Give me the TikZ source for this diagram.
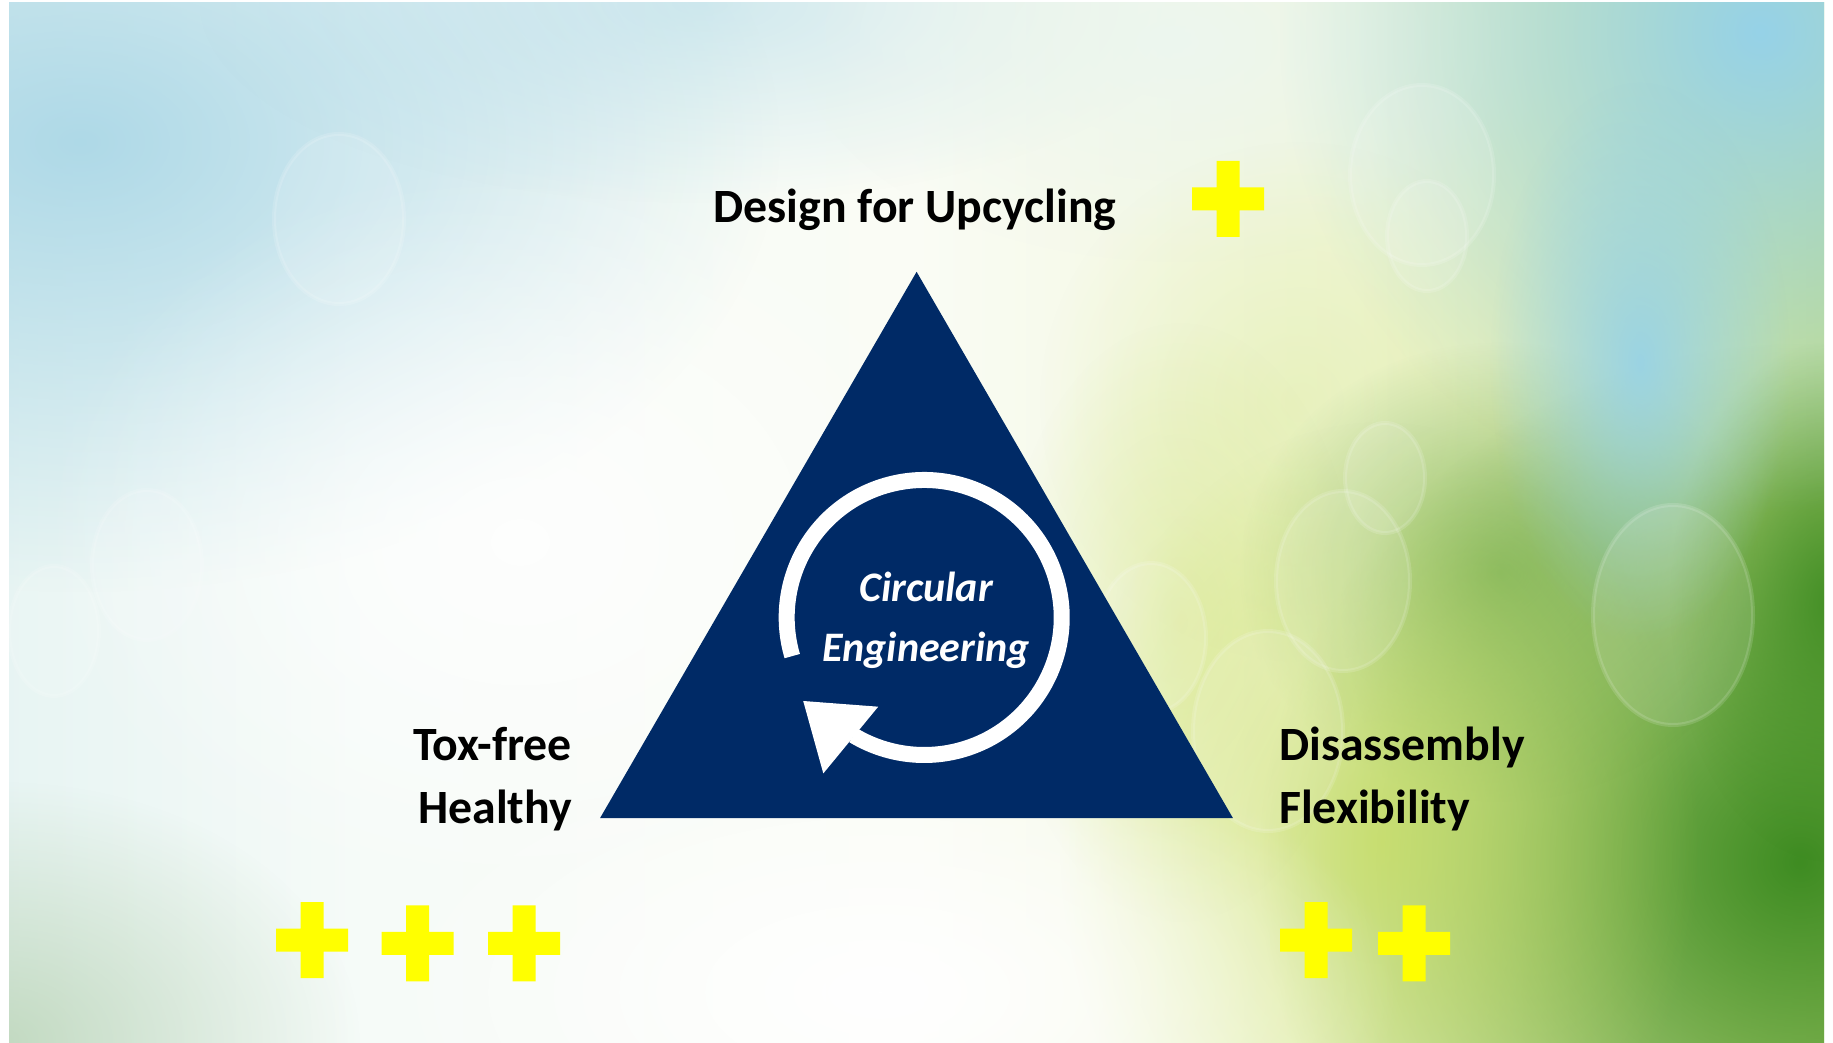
\documentclass[tikz,border=0pt]{standalone}
\usepackage{fontspec}
\setmainfont{Carlito}
\usepackage{xcolor}
\usepackage{tikz}
\usetikzlibrary{fadings}

\definecolor{navy}{RGB}{0,42,102}
\definecolor{plusyellow}{RGB}{255,255,0}
\definecolor{bgA}{RGB}{190,225,232}
\definecolor{bgB}{RGB}{224,241,240}
\definecolor{bgC}{RGB}{246,251,248}
\definecolor{bgD}{RGB}{250,252,245}
\definecolor{bgE}{RGB}{240,246,216}
\definecolor{bgF}{RGB}{214,230,148}
\definecolor{bgG}{RGB}{168,204,98}
\definecolor{bgH}{RGB}{104,166,66}
\definecolor{bgI}{RGB}{66,138,40}
\definecolor{skyblue}{RGB}{168,214,230}
\definecolor{deepsky}{RGB}{150,210,232}
\definecolor{leafgreen}{RGB}{62,140,34}
\definecolor{mossgreen}{RGB}{104,166,72}
\definecolor{limegreen}{RGB}{200,222,88}
\definecolor{paleslime}{RGB}{226,238,170}
\definecolor{mintwhite}{RGB}{236,246,240}
\definecolor{mossgrey}{RGB}{170,200,160}

\pgfdeclarehorizontalshading{bgsky}{100bp}{color(0bp)=(bgA); color(20bp)=(bgB);
  color(35bp)=(bgC); color(50bp)=(bgD); color(62bp)=(bgE); color(72bp)=(bgF);
  color(82bp)=(bgG); color(92bp)=(bgH); color(100bp)=(bgI)}
\tikzfading[name=glow, inner color=transparent!0, outer color=transparent!100]

\tikzset{
  navyfill/.style={fill=navy},
  ringline/.style={draw=white, line width=16pt},
  crossmark/.style={fill=plusyellow},
  labeltext/.style={inner sep=0pt, text=black, font=\fontsize{47.8}{56}\selectfont\bfseries},
  coretext/.style={inner sep=0pt, text=white, font=\fontsize{42}{50}\selectfont\bfseries\itshape},
  bokeh/.style={fill=white, fill opacity=0.13, draw=white, draw opacity=0.14, line width=4pt},
}

\begin{document}
\begin{tikzpicture}[x=1pt,y=1pt]
    \useasboundingbox (0,0) rectangle (1833,1042);

    % Background photo
    \begin{scope}
        \clip (9,0) rectangle (1824,1039);
        \shade[shading=bgsky] (9,0) rectangle (1824,1039);
        \foreach \cx/\cy/\rx/\ry/\col/\op in {
            80/900/700/450/skyblue/0.9, 700/1039/500/200/skyblue/0.5,
            1180/1000/380/220/mintwhite/0.9, 1300/640/260/260/paleslime/0.6,
            1800/180/540/520/leafgreen/1,
            1500/470/260/230/mossgreen/0.7, 1830/440/160/260/leafgreen/0.9,
            1760/1010/480/480/deepsky/1, 1640/680/150/280/deepsky/0.9,
            1380/200/320/420/limegreen/0.7,
            1180/420/180/300/limegreen/0.35, 0/0/360/260/mossgrey/0.6,
            880/50/520/260/white/1, 520/500/480/380/white/0.8} {
            \fill[\col, opacity=\op, path fading=glow] (\cx,\cy) ellipse [x radius=\rx, y radius=\ry];
        }
        \foreach \cx/\cy/\rx/\ry in {1422/867/72/90, 1427/806/40/55, 1385/564/40/55,
            1343/461/67/90, 1673/427/80/110, 1268/311/75/100, 1151/404/55/75,
            339/823/65/85, 147/477/55/75, 54/411/45/65} {
            \draw[bokeh] (\cx,\cy) ellipse [x radius=\rx, y radius=\ry];
        }
    \end{scope}

    % Triangle
    \coordinate (tip) at (916.6,770.2);
    \coordinate (baseL) at (600,223.8);
    \coordinate (baseR) at (1233,223.8);
    \fill[navyfill] (tip) -- (baseL) -- (baseR) -- cycle;

    % Cycle arrow
    \coordinate (hub) at (924.2,424.5);
    \draw[ringline] (hub) ++(196.3:137.5) arc [start angle=196.3, end angle=-121, radius=137.5];
    \coordinate (headtip) at (803.2,341);
    \coordinate (headA) at (878.2,335.3);
    \coordinate (headB) at (823.3,268.6);
    \fill[white] (headtip) -- (headA) -- (headB) -- cycle;

    % Labels
    \node[coretext, anchor=base] (circular) at (926,440) {Circular};
    \node[coretext, anchor=base] (engineering) at (926,380) {Engineering};
    \node[labeltext, anchor=base] (design) at (915,819) {Design for Upcycling};
    \node[labeltext, anchor=base east] (toxfree) at (572,281) {Tox-free};
    \node[labeltext, anchor=base east] (healthy) at (572,219) {Healthy};
    \node[labeltext, anchor=base west] (disassembly) at (1279,281) {Disassembly};
    \node[labeltext, anchor=base west] (flexibility) at (1279,219) {Flexibility};

    % Plus signs
    \foreach \x/\y in {1228/843, 312/102, 417.5/98.7, 524.2/98.7, 1316/102, 1414/98.7} {
        \fill[crossmark] (\x-36,\y-11.5) rectangle (\x+36,\y+11.5)
                         (\x-11.5,\y-38) rectangle (\x+11.5,\y+38);
    }
\end{tikzpicture}
\end{document}
